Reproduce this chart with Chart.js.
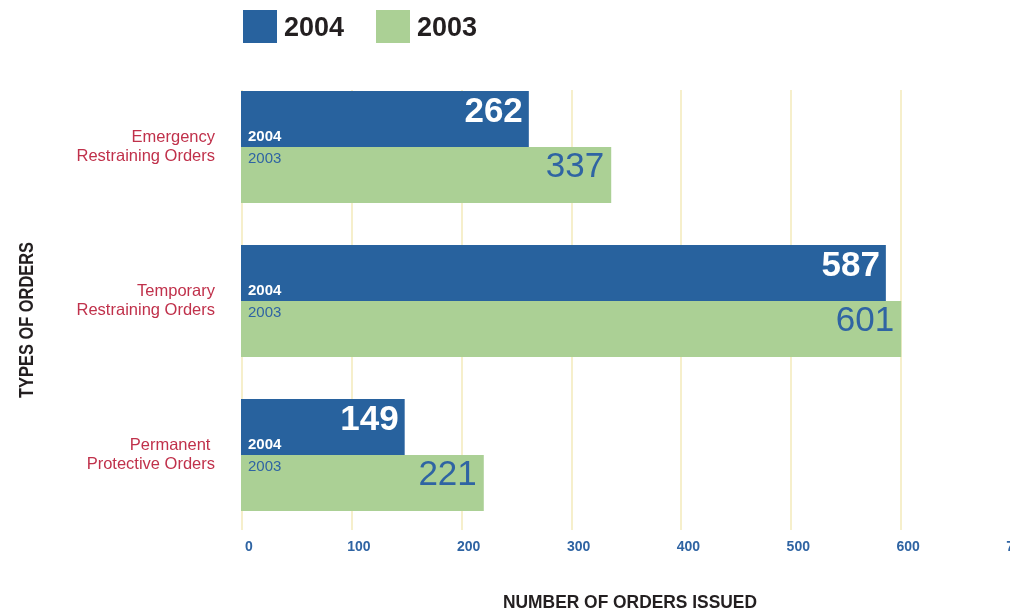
<!DOCTYPE html>
<html><head><meta charset="utf-8">
<script src="https://cdn.jsdelivr.net/npm/chart.js@4.4.0/dist/chart.umd.min.js"></script>
<style>html,body{margin:0;padding:0;background:#fff;}</style>
</head><body>
<canvas id="c" width="1010" height="610"></canvas>
<script>
// ---- data ----
const categories = [['Emergency', 'Restraining Orders'], ['Temporary', 'Restraining Orders'], ['Permanent ', 'Protective Orders']];
const seriesLabels = ['2004', '2003'];
const values2004 = [262, 587, 149];
const values2003 = [337, 601, 221];
const xTicks = [0, 100, 200, 300, 400, 500, 600, 700];
const xTitle = 'NUMBER OF ORDERS ISSUED';
const yTitle = 'TYPES OF ORDERS';

// ---- styles ----
const BLUE = '#28629e', GREEN = '#abd095', CRIMSON = '#c0314b', TICKBLUE = '#2f64a3', DARK = '#231f20', GRID = '#f6efcb';
const FONT = '"Liberation Sans", Arial, sans-serif';

function condensedText(ctx, text, x, y, targetW, rot) {
  const w = ctx.measureText(text).width;
  const s = targetW / w;
  ctx.save();
  ctx.translate(x, y);
  if (rot) ctx.rotate(rot);
  ctx.scale(s, 1);
  ctx.textAlign = 'center';
  ctx.fillText(text, 0, 0);
  ctx.restore();
}

const annot = {
  id: 'annot',
  beforeDatasetsDraw(chart) {
    const x = chart.scales.x, ctx = chart.ctx, ca = chart.chartArea;
    ctx.save();
    ctx.strokeStyle = GRID; ctx.lineWidth = 2;
    xTicks.forEach(v => {
      if (v >= x.max) return;
      const px = Math.round(x.getPixelForValue(v)) + 1;
      ctx.beginPath(); ctx.moveTo(px, ca.top + 20); ctx.lineTo(px, ca.bottom - 2); ctx.stroke();
    });
    ctx.restore();
  },
  afterDatasetsDraw(chart) {
    const ctx = chart.ctx;
    const m0 = chart.getDatasetMeta(0), m1 = chart.getDatasetMeta(1);
    ctx.save();
    ctx.textBaseline = 'alphabetic';
    m0.data.forEach((bar, i) => {
      const top = bar.y - bar.height / 2, bottom = bar.y + bar.height / 2;
      ctx.fillStyle = '#fff';
      ctx.font = 'bold 35px ' + FONT; ctx.textAlign = 'right';
      ctx.fillText(String(chart.data.datasets[0].data[i]), bar.x - 6, top + 31);
      ctx.font = 'bold 15px ' + FONT; ctx.textAlign = 'left';
      ctx.fillText(seriesLabels[0], bar.base + 7, bottom - 6);
    });
    m1.data.forEach((bar, i) => {
      const top = bar.y - bar.height / 2;
      ctx.fillStyle = TICKBLUE;
      ctx.font = '35px ' + FONT; ctx.textAlign = 'right';
      ctx.fillText(String(chart.data.datasets[1].data[i]), bar.x - 7, top + 30);
      ctx.font = '15px ' + FONT; ctx.textAlign = 'left';
      ctx.fillText(seriesLabels[1], bar.base + 7, top + 16);
    });
    ctx.restore();
  },
  afterDraw(chart) {
    const ctx = chart.ctx;
    ctx.save();
    // legend
    const ds = chart.data.datasets;
    const lx = [243, 376];
    ds.forEach((d, i) => {
      ctx.fillStyle = d.backgroundColor;
      ctx.fillRect(lx[i], 10, 34, 33);
      ctx.fillStyle = DARK;
      ctx.font = 'bold 27px ' + FONT;
      ctx.textAlign = 'left'; ctx.textBaseline = 'alphabetic';
      ctx.fillText(d.label, lx[i] + 41, 36);
    });
    // axis titles
    ctx.fillStyle = DARK;
    ctx.font = 'bold 19px ' + FONT;
    ctx.textBaseline = 'alphabetic';
    condensedText(ctx, xTitle, 630, 608, 254, 0);
    ctx.font = 'bold 21px ' + FONT;
    condensedText(ctx, yTitle, 33, 320, 156, -Math.PI / 2);
    ctx.restore();
  }
};

new Chart(document.getElementById('c'), {
  type: 'bar',
  data: {
    labels: categories,
    datasets: [
      { label: seriesLabels[0], data: values2004, backgroundColor: BLUE, borderWidth: 0, categoryPercentage: 0.727, barPercentage: 1.0 },
      { label: seriesLabels[1], data: values2003, backgroundColor: GREEN, borderWidth: 0, categoryPercentage: 0.727, barPercentage: 1.0 }
    ]
  },
  options: {
    indexAxis: 'y',
    responsive: false,
    animation: false,
    layout: { padding: { top: 70, left: 0, right: 0, bottom: 0 } },
    plugins: { legend: { display: false }, tooltip: { enabled: false } },
    scales: {
      x: {
        type: 'linear', position: 'bottom', min: 0, max: 700,
        afterBuildTicks(s) { s.ticks = xTicks.map(v => ({ value: v })); },
        afterFit(s) { s.height = 78; s.paddingLeft = 0; s.paddingRight = 0; },
        grid: { display: false, drawTicks: false },
        border: { display: false },
        ticks: { color: TICKBLUE, font: { family: FONT, size: 14, weight: 'bold' }, padding: 7, labelOffset: 8, maxRotation: 0 }
      },
      y: {
        afterFit(s) { s.width = 241; },
        grid: { display: false, drawTicks: false },
        border: { display: false },
        ticks: { color: CRIMSON, font: { family: FONT, size: 16.5, lineHeight: 1.15 }, padding: 26 }
      }
    }
  },
  plugins: [annot]
});
</script>
</body></html>
